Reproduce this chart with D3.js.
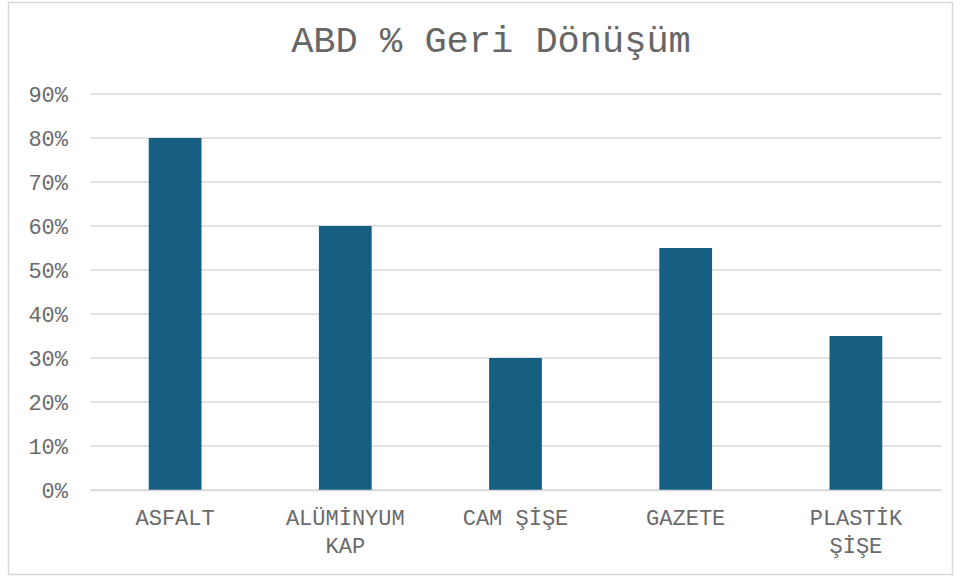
<!DOCTYPE html>
<html><head><meta charset="utf-8">
<script src="https://cdn.jsdelivr.net/npm/d3@7"></script>
<style>body{margin:0;background:#fff}text{font-family:"Courier New","Liberation Mono",monospace}</style>
</head><body><svg id="c" width="961" height="579"></svg>
<script>
const title = "ABD % Geri Dönüşüm";
const categories = [["ASFALT"],["ALÜMİNYUM","KAP"],["CAM ŞİŞE"],["GAZETE"],["PLASTİK","ŞİŞE"]];
const values = [0.80, 0.60, 0.30, 0.55, 0.35];
const yTicks = [0,0.1,0.2,0.3,0.4,0.5,0.6,0.7,0.8,0.9];

const svg = d3.select("#c");
svg.append("rect").attr("x",8.5).attr("y",2.5).attr("width",944).attr("height",572)
  .attr("fill","#fff").attr("stroke","#d9d9d9").attr("stroke-width",1.5);
svg.append("text").attr("x",491).attr("y",52).attr("text-anchor","middle")
  .attr("font-size",37).attr("fill","#666").text(title);

const x = d3.scaleBand().domain(d3.range(categories.length)).range([90,941]).paddingInner(0.69).paddingOuter(0.345);
const y = d3.scaleLinear().domain([0,0.9]).range([490,94]);

const yAxis = d3.axisLeft(y).tickValues(yTicks).tickFormat(d3.format(".0%")).tickSize(0).tickPadding(22);
const gy = svg.append("g").attr("transform","translate(90,0)").call(yAxis);
gy.select(".domain").remove();
gy.selectAll("text").attr("font-size",22).attr("fill","#6a6a6a").attr("font-family","Courier New, Liberation Mono, monospace").attr("dy","0.35em");

svg.append("g").selectAll("line").data(yTicks).join("line")
  .attr("x1",90).attr("x2",941).attr("y1",d=>y(d)).attr("y2",d=>y(d))
  .attr("stroke","#d9d9d9").attr("stroke-width",1.5);

svg.append("g").selectAll("rect").data(values).join("rect")
  .attr("x",(d,i)=>x(i)).attr("width",x.bandwidth())
  .attr("y",d=>y(d)).attr("height",d=>y(0)-y(d)).attr("fill","#175f82");

const xAxis = d3.axisBottom(x).tickSize(0).tickFormat(()=>"");
const gx = svg.append("g").attr("transform","translate(0,490)").call(xAxis);
gx.select(".domain").attr("stroke","#d9d9d9").attr("stroke-width",1.5);
gx.selectAll(".tick").each(function(i){
  const t = d3.select(this).append("text").attr("text-anchor","middle").attr("font-size",22).attr("fill","#6a6a6a");
  categories[i].forEach((l,k)=>t.append("tspan").attr("x",0).attr("y",35+k*28).text(l));
});
</script></body></html>
